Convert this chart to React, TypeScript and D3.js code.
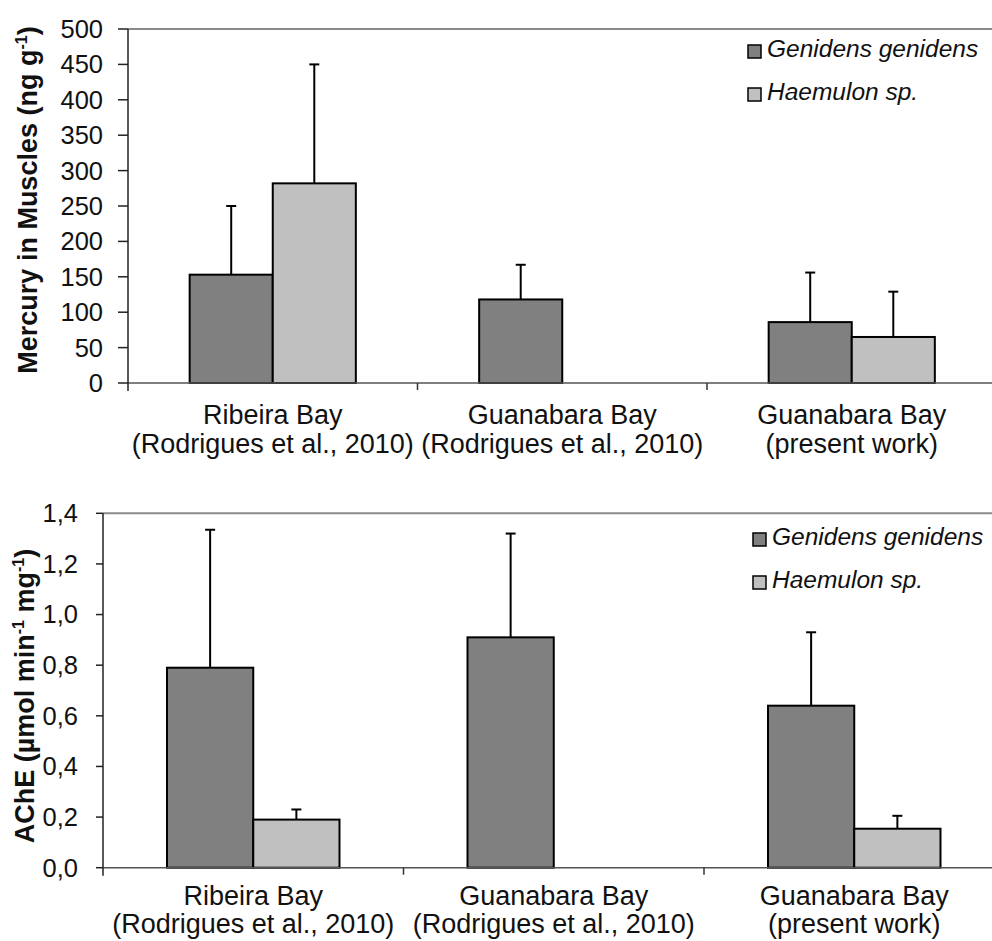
import React from "react";
import * as d3 from "d3";

const catLine1 = ["Ribeira Bay", "Guanabara Bay", "Guanabara Bay"];
const catLine2 = ["(Rodrigues et al., 2010)", "(Rodrigues et al., 2010)", "(present work)"];
const catKeys = ["c1", "c2", "c3"];
const seriesNames = ["Genidens genidens", "Haemulon sp."];

const hgGenidens = [153, 118, 86];
const hgGenidensErr = [97, 49, 70];
const hgHaemulon: (number | null)[] = [282, null, 65];
const hgHaemulonErr: (number | null)[] = [168, null, 64];
const hgTicks = [0, 50, 100, 150, 200, 250, 300, 350, 400, 450, 500];

const acheGenidens = [0.79, 0.91, 0.64];
const acheGenidensErr = [0.545, 0.41, 0.29];
const acheHaemulon: (number | null)[] = [0.19, null, 0.154];
const acheHaemulonErr: (number | null)[] = [0.04, null, 0.051];
const acheTicks = [0, 0.2, 0.4, 0.6, 0.8, 1.0, 1.2, 1.4];

const DARK = "#808080";
const LIGHT = "#c0c0c0";
const FONT = "'Liberation Sans', Arial, sans-serif";

type PanelProps = {
  x0: number;
  catW: number;
  yBase: number;
  yTop: number;
  yMax: number;
  ticks: number[];
  fmt: (v: number) => string;
  g: number[];
  gErr: number[];
  h: (number | null)[];
  hErr: (number | null)[];
  tickLen: number;
  labelGap: number;
  line1: number;
  line2: number;
  titleX: number;
  titleY: number;
  title: React.ReactNode;
  legendX: number;
  legendY: number;
  legendSpacing: number;
};

function Panel(p: PanelProps) {
  const x = d3.scaleBand<string>().domain(catKeys).range([p.x0, p.x0 + 3 * p.catW]).padding(0);
  const bw = x.bandwidth();
  const inner = d3
    .scaleBand<string>()
    .domain(["g", "h"])
    .range([bw * (0.5 - 0.287), bw * (0.5 + 0.287)])
    .padding(0);
  const y = d3.scaleLinear().domain([0, p.yMax]).range([p.yBase, p.yTop]);
  const right = p.x0 + 3 * p.catW;
  const capHalf = 5;

  const bars: React.ReactNode[] = [];
  const errs: React.ReactNode[] = [];
  catKeys.forEach((k, i) => {
    const series: [string, number | null, number | null, string][] = [
      ["g", p.g[i], p.gErr[i], DARK],
      ["h", p.h[i], p.hErr[i], LIGHT],
    ];
    series.forEach(([s, v, e, col]) => {
      if (v == null) return;
      const bx = (x(k) as number) + (inner(s) as number);
      const w = inner.bandwidth();
      bars.push(
        <rect key={`b${k}${s}`} x={bx} y={y(v)} width={w} height={p.yBase - y(v)} fill={col} stroke="#000" strokeWidth={2} />
      );
      if (e != null) {
        const cx = bx + w / 2;
        errs.push(
          <g key={`e${k}${s}`} stroke="#000" strokeWidth={2}>
            <line x1={cx} x2={cx} y1={y(v)} y2={y(v + e)} />
            <line x1={cx - capHalf} x2={cx + capHalf} y1={y(v + e)} y2={y(v + e)} />
          </g>
        );
      }
    });
  });

  return (
    <g>
      <line x1={p.x0} x2={right} y1={p.yTop} y2={p.yTop} stroke="#8a8a8a" strokeWidth={2} />
      {bars}
      {errs}
      <line x1={p.x0} x2={right} y1={p.yBase} y2={p.yBase} stroke="#555" strokeWidth={1.5} />
      {d3.range(1, 4).map((i) => (
        <line key={`xt${i}`} x1={p.x0 + i * p.catW} x2={p.x0 + i * p.catW} y1={p.yBase} y2={p.yBase + 7} stroke="#333" strokeWidth={1.5} />
      ))}
      <line x1={p.x0} x2={p.x0} y1={p.yTop} y2={p.yBase + 8} stroke="#222" strokeWidth={1.5} />
      {p.ticks.map((t) => (
        <g key={`yt${t}`}>
          <line x1={p.x0 - p.tickLen} x2={p.x0} y1={y(t)} y2={y(t)} stroke="#222" strokeWidth={1.5} />
          <text x={p.x0 - p.labelGap} y={y(t)} dy="0.35em" textAnchor="end" fontSize={25.5} fontFamily={FONT} fill="#111">
            {p.fmt(t)}
          </text>
        </g>
      ))}
      {catKeys.map((k, i) => (
        <text key={`cl${k}`} x={(x(k) as number) + bw / 2} textAnchor="middle" fontSize={27} fontFamily={FONT} fill="#111">
          <tspan x={(x(k) as number) + bw / 2} y={p.yBase + p.line1}>{catLine1[i]}</tspan>
          <tspan x={(x(k) as number) + bw / 2} y={p.yBase + p.line2}>{catLine2[i]}</tspan>
        </text>
      ))}
      <text transform={`translate(${p.titleX},${p.titleY}) rotate(-90)`} textAnchor="middle" fontSize={27} fontWeight="bold" fontFamily={FONT} fill="#111">
        {p.title}
      </text>
      {seriesNames.map((n, i) => (
        <g key={`lg${i}`}>
          <rect x={p.legendX} y={p.legendY + i * p.legendSpacing} width={13} height={13} fill={i === 0 ? DARK : LIGHT} stroke="#000" strokeWidth={1.5} />
          <text x={p.legendX + 19} y={p.legendY + 12 + i * p.legendSpacing} fontSize={24.5} fontStyle="italic" fontFamily={FONT} fill="#111">
            {n}
          </text>
        </g>
      ))}
    </g>
  );
}

export default function App() {
  const hgFmt = (v: number) => d3.format("d")(v);
  const acheFmt = (v: number) => d3.format(".1f")(v).replace(".", ",");
  return (
    <svg width={992} height={941} style={{ position: "absolute", left: 0, top: 0, background: "#fff" }}>
      <rect width={992} height={941} fill="#fff" />
      <Panel
        x0={128}
        catW={289.5}
        yBase={383}
        yTop={29}
        yMax={500}
        ticks={hgTicks}
        fmt={hgFmt}
        g={hgGenidens}
        gErr={hgGenidensErr}
        h={hgHaemulon}
        hErr={hgHaemulonErr}
        tickLen={10}
        labelGap={25}
        line1={41}
        line2={70}
        titleX={37}
        titleY={200}
        title={
          <>
            Mercury in Muscles (ng g
            <tspan fontSize={16} dy={-10}>-1</tspan>
            <tspan dy={10}>)</tspan>
          </>
        }
        legendX={748}
        legendY={45}
        legendSpacing={43}
      />
      <Panel
        x0={103}
        catW={300.5}
        yBase={867.7}
        yTop={513.3}
        yMax={1.4}
        ticks={acheTicks}
        fmt={acheFmt}
        g={acheGenidens}
        gErr={acheGenidensErr}
        h={acheHaemulon}
        hErr={acheHaemulonErr}
        tickLen={7}
        labelGap={25}
        line1={37}
        line2={65}
        titleX={34}
        titleY={696}
        title={
          <>
            AChE (µmol min
            <tspan fontSize={16} dy={-10}>-1</tspan>
            <tspan dy={10}> mg</tspan>
            <tspan fontSize={16} dy={-10}>-1</tspan>
            <tspan dy={10}>)</tspan>
          </>
        }
        legendX={753}
        legendY={533}
        legendSpacing={43}
      />
    </svg>
  );
}
